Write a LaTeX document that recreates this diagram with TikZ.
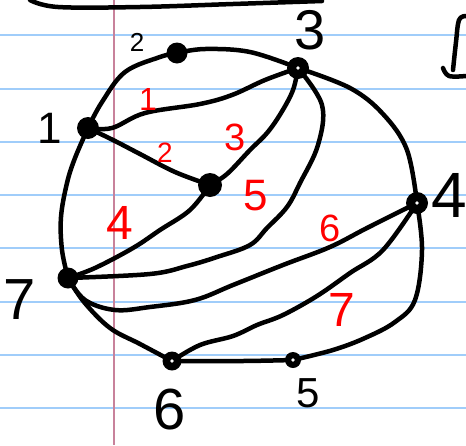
\documentclass[tikz,border=0pt]{standalone}
\usepackage{fontspec}
\setmainfont{Liberation Sans}
\usetikzlibrary{backgrounds}
\definecolor{ruleblue}{RGB}{160,205,250}
\definecolor{marginpink}{RGB}{200,130,155}
\definecolor{inkred}{RGB}{255,0,0}
\tikzset{
  ink/.style={line width=4.5pt, line cap=round, line join=round, black},
  dotnode/.style={circle, fill=black, inner sep=0pt, minimum size=#1},
  blab/.style={inner sep=0pt, black, font=\fontsize{#1}{#1}\selectfont},
  rlab/.style={inner sep=0pt, inkred, font=\fontsize{#1}{#1}\selectfont},
  paperline/.style={ruleblue, line width=2.5pt},
}
\begin{document}
\begin{tikzpicture}[x=1pt,y=-1pt]
\useasboundingbox (0,0) rectangle (466,445);

% nodes
\node[dotnode=22pt] (n1) at (88,128) {};
\node[dotnode=21pt] (n2) at (177,53) {};
\node[dotnode=22pt] (n3) at (298,68) {};
\node[dotnode=24pt] (nc) at (210,185) {};
\node[dotnode=22pt] (n4) at (417,203) {};
\node[dotnode=21pt] (n7) at (68,278) {};
\node[dotnode=19pt] (n6) at (172,361) {};
\node[dotnode=16pt] (n5) at (293,360) {};
% small pen gaps in the hollow dots
\foreach \v in {n3,n4,n6,n5}
  \fill[white] (\v.center) circle (1.8pt);

% paper and edges
\begin{scope}[on background layer]
\fill[white] (0,0) rectangle (466,445);
\foreach \yy in {35,89,142,195,248,302,355,408}
  \draw[paperline] (0,\yy) -- (466,\yy);
\draw[marginpink, line width=1.5pt] (114,0) -- (114,445);
\draw[ink] plot[smooth, tension=0.6] coordinates {(n1.center) (102,102) (125,72) (160,57) (n2.center)};
\draw[ink] plot[smooth, tension=0.6] coordinates {(n2.center) (205,49) (250,52) (n3.center)};
\draw[ink] plot[smooth, tension=0.6] coordinates {(n1.center) (112,128) (145,113) (200,104) (232,95) (265,80) (n3.center)};
\draw[ink] plot[smooth, tension=0.6] coordinates {(n3.center) (350,88) (383,114) (407,150) (n4.center)};
\draw[ink] plot[smooth, tension=0.6] coordinates {(n4.center) (422,250) (415,300) (395,322) (365,338) (333,350) (n5.center)};
\draw[ink] plot[smooth, tension=0.6] coordinates {(n5.center) (243,361) (n6.center)};
\draw[ink] plot[smooth, tension=0.6] coordinates {(n7.center) (84,302) (110,328) (140,344) (n6.center)};
\draw[ink] plot[smooth, tension=0.6] coordinates {(n7.center) (62,250) (61,217) (67,183) (75,158) (n1.center)};
\draw[ink] plot[smooth, tension=0.6] coordinates {(n1.center) (113,140) (140,154) (175,172) (nc.center)};
\draw[ink] plot[smooth, tension=0.6] coordinates {(nc.center) (227,174) (250,150) (267,133) (281,113) (293,90) (n3.center)};
\draw[ink] plot[smooth, tension=0.6] coordinates {(n3.center) (322,105) (318,145) (300,183) (287,207) (267,228) (250,245) (217,257) (187,266) (150,274) (n7.center)};
\draw[ink] plot[smooth, tension=0.6] coordinates {(n7.center) (95,268) (133,248) (160,230) (190,210) (nc.center)};
\draw[ink] plot[smooth, tension=0.6] coordinates {(n7.center) (85,300) (115,310) (150,307) (195,300) (233,285) (283,265) (330,247) (367,228) (n4.center)};
\draw[ink] plot[smooth, tension=0.6] coordinates {(n6.center) (200,345) (233,336) (257,325) (283,315) (317,296) (350,273) (383,250) (n4.center)};
% stray strokes on the page
\draw[ink] plot[smooth, tension=0.6] coordinates {(30,0) (58,7) (140,7) (233,4) (322,1)};
\draw[ink] plot[smooth, tension=0.6] coordinates {(466,16) (459,20) (456,42) (453,70)};
\draw[ink] plot[smooth, tension=0.6] coordinates {(443,68) (449,76) (466,76)};
\end{scope}

% vertex labels
\node[blab=44pt] (l1) at (50,128) {1};
\node[blab=26pt] (l2) at (137,42) {2};
\node[blab=56pt] (l3) at (310,30) {3};
\node[blab=64pt] (l4) at (449,195) {4};
\node[blab=58pt] (l7) at (20,300) {7};
\node[blab=58pt] (l6) at (170,410) {6};
\node[blab=42pt] (l5) at (308,393) {5};

% face labels
\node[rlab=32pt] (f1) at (148,99) {1};
\node[rlab=28pt] (f2) at (165,153) {2};
\node[rlab=38pt] (f3) at (235,137) {3};
\node[rlab=48pt] (f4) at (120,223) {4};
\node[rlab=44pt] (f5) at (256,196) {5};
\node[rlab=38pt] (f6) at (330,228) {6};
\node[rlab=48pt] (f7) at (342,310) {7};
\end{tikzpicture}
\end{document}
